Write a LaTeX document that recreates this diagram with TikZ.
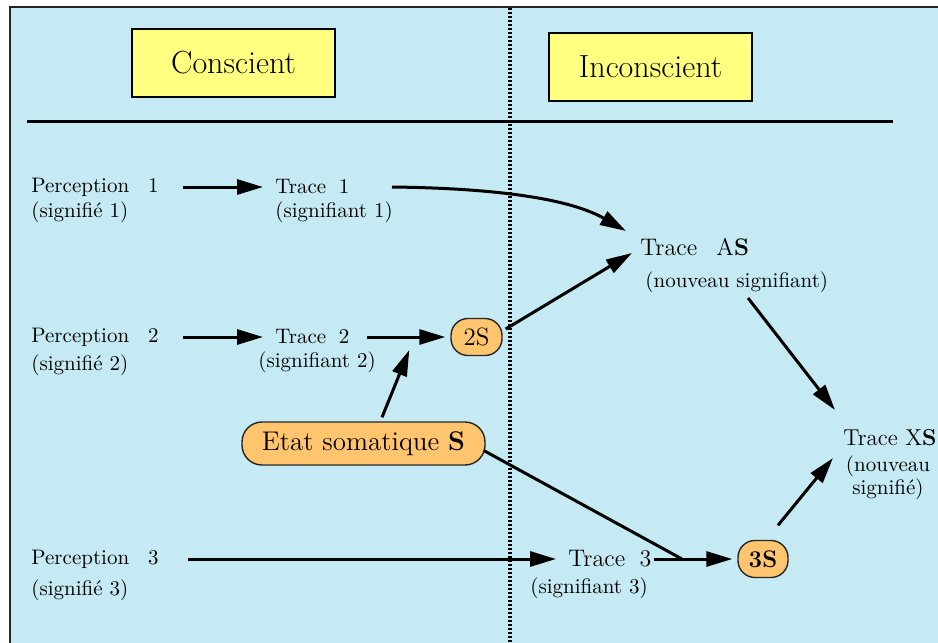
\documentclass[tikz,border=0pt]{standalone}
\usetikzlibrary{arrows.meta}
\definecolor{bgblue}{HTML}{C5EAF3}
\definecolor{hdryellow}{HTML}{FFFF80}
\definecolor{pillorange}{HTML}{FFC46E}
\newcommand{\setfs}[1]{\fontsize{#1}{#1}\selectfont}
\begin{document}
\begin{tikzpicture}[x=0.5pt,y=-0.5pt,
  lbl/.style={font=\setfs{10.5}, inner sep=0pt, anchor=west},
  lblm/.style={font=\setfs{12}, inner sep=0pt, anchor=west},
  hdr/.style={draw=black, line width=1.3pt, fill=hdryellow, minimum width=101.5pt,
              minimum height=34pt, inner sep=0pt, font=\setfs{16}},
  pill/.style={draw=black!85, line width=0.7pt, fill=pillorange, rounded corners=8.5pt, inner sep=0pt},
  arr/.style={line width=1.5pt, -{Triangle[length=13pt,width=7.5pt]}},
  link/.style={line width=1.5pt}]
\useasboundingbox (0,0) rectangle (938,643);

% panel background and its frame
\fill[bgblue] (10,7) rectangle (950,655);
\draw[line width=1pt, black!85] (10,655) -- (10,7) -- (950,7);

% separators
\draw[line width=1.5pt] (27,121) -- (893,121);
\draw[line width=1.6pt, dash pattern=on 1.1pt off 0.9pt] (510,8) -- (510,643);

% headers
\node[hdr] (cons) at (233.5,63) {Conscient};
\node[hdr] (incons) at (650.5,67) {Inconscient};

% row 1
\node[lbl] (p1) at (31,187) {Perception\hspace{0.9em}1};
\node[lbl] (p1s) at (31,212) {(signifié 1)};
\node[lbl] (t1) at (275,187) {Trace\hspace{0.6em}1};
\node[lbl] (t1s) at (275,212) {(signifiant 1)};

% new signifier
\node[lblm] (as) at (640,247) {Trace\hspace{0.8em}A\textbf{S}};
\node[lbl] (asn) at (645,282) {(nouveau signifiant)};

% row 2
\node[lbl] (p2) at (31,337) {Perception\hspace{0.9em}2};
\node[lbl] (p2s) at (31,365) {(signifié 2)};
\node[lbl] (t2) at (275,337) {Trace\hspace{0.6em}2};
\node[lbl] (t2s) at (258,362) {(signifiant 2)};
\node[pill, minimum width=25.5pt, minimum height=18.5pt, font=\setfs{12.5}] (s2) at (476.5,337) {2S};

% somatic state
\node[pill, minimum width=121.5pt, minimum height=21.5pt, rounded corners=10pt, font=\setfs{13.5}]
  (etat) at (363.5,443.5) {Etat somatique \textbf{S}};

% new signified
\node[font=\setfs{11.5}, inner sep=0pt, anchor=west] (xs) at (843,438) {Trace X\textbf{S}};
\node[font=\fontsize{10.5}{11.5}\selectfont, inner sep=0pt, align=center] (xsn) at (888,478)
  {(nouveau\\signifié)};

% row 3
\node[lbl] (p3) at (31,559) {Perception\hspace{0.9em}3};
\node[lbl] (p3s) at (31,590) {(signifié 3)};
\node[lblm] (t3) at (568,559) {Trace\hspace{0.6em}3};
\node[lbl] (t3s) at (530,588) {(signifiant 3)};
\node[pill, minimum width=25pt, minimum height=18.5pt, font=\setfs{12}\bfseries] (s3) at (763,559) {3S};
\coordinate (join) at (682,559);

% connectors
\draw[arr] ([shift={(152,0)}]p1.west) -- ([shift={(-12,0)}]t1.west);
\draw[arr] ([shift={(117,0)}]t1.west) .. controls (480,188) and (565,196) .. ([shift={(-14,-16)}]as.west);
\draw[arr] ([shift={(152,0)}]p2.west) -- ([shift={(-12,0)}]t2.west);
\draw[arr] ([shift={(92,0)}]t2.west) -- ([shift={(-5,0)}]s2.west);
\draw[arr] ([shift={(3,-8)}]s2.east) -- ([shift={(-8,6)}]as.west);
\draw[arr] ([shift={(103,16)}]asn.west) -- ([shift={(-8,-28)}]xs.west);
\draw[arr] ([shift={(18.5,-4)}]etat.north) -- ([shift={(-41,13)}]s2.west);
\draw[link] ([shift={(-2,7)}]etat.east) -- (join);
\draw[arr] ([shift={(157,0)}]p3.west) -- ([shift={(-12,0)}]t3.west);
\draw[arr] ([shift={(86,0)}]t3.west) -- ([shift={(-5,0)}]s3.west);
\draw[arr] ([shift={(15,-14.5)}]s3.north) -- ([shift={(-10,20)}]xs.west);
\end{tikzpicture}
\end{document}
